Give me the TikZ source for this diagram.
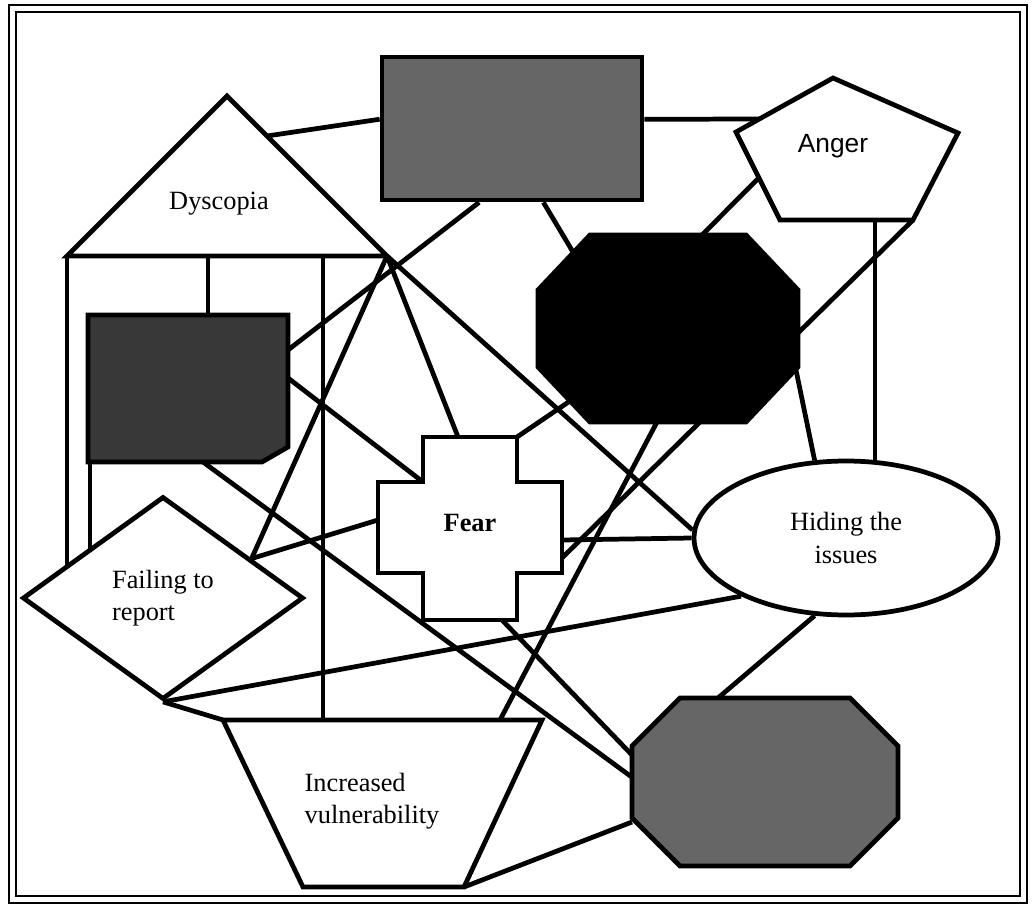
\documentclass[tikz,border=0pt]{standalone}
\usepackage{fontspec}
\setmainfont{Liberation Serif}
\newfontfamily\angerfont{Liberation Sans}
\usetikzlibrary{calc,backgrounds,shapes.geometric}
\tikzset{
	whiteshape/.style={draw, fill=white},
	greybox/.style={draw, fill=black!60},
	darkbox/.style={draw, fill=black!78},
	blackbox/.style={draw, fill=black},
	link/.style={line width=2.7pt},
	outerframe/.style={line width=1.6pt},
	lbl/.style={font=\fontsize{15}{18.5}\selectfont, inner sep=0pt, align=center},
}

\begin{document}
\begin{tikzpicture}[x=0.02cm, y=-0.02cm, line width=2.7pt]
	\path [use as bounding box] (0,0) rectangle (1032,909);
	\draw[outerframe] (9,5) rectangle (1027,903);
	\draw[outerframe] (16,12) rectangle (1020,896);

	\coordinate (dysW) at (67,256);
	\coordinate (dysTop) at (227,96);
	\coordinate (dysE) at (387,256);
	\draw[whiteshape] (dysW) -- (dysTop) -- (dysE) -- cycle;
	\node[lbl] (dys) at (219,204) {Dyscopia};
	\coordinate (dysR) at ($(dysTop)!0.25!(dysE)$);
	\coordinate (dysB1) at (208,256);
	\coordinate (dysB2) at (323,256);

	\node[greybox, minimum width=5.2cm, minimum height=2.86cm] (topbox) at (512,128.5) {};

	\coordinate (angTop) at (833,78);
	\coordinate (angNE) at (958,133);
	\coordinate (angSE) at (913,220);
	\coordinate (angSW) at (780,220);
	\coordinate (angNW) at (736,132);
	\draw[whiteshape] (angTop) -- (angNE) -- (angSE) -- (angSW) -- (angNW) -- cycle;
	\node[lbl, font=\angerfont\fontsize{15}{18}\selectfont] (anger) at (833,146) {Anger};
	\coordinate (angW1) at ($(angNW)!0.24!(angTop)$);
	\coordinate (angW2) at ($(angNW)!0.52!(angSW)$);
	\coordinate (angS) at (875,220);

	\draw[darkbox] (88,315) -- (288,315) -- (288,447) -- (262,462) -- (88,462) -- cycle;
	\coordinate (cardN) at (208,315);
	\coordinate (cardE1) at (288,350);
	\coordinate (cardE2) at (288,378);
	\coordinate (cardS1) at (90,462);
	\coordinate (cardS2) at (203,462);

	\draw[blackbox] (590,235) -- (746,235) -- (798,290) -- (798,367) -- (746,422)
		-- (590,422) -- (538,367) -- (538,290) -- cycle;
	\coordinate (octN) at (702,235);
	\coordinate (octNW) at (573,252);
	\coordinate (octSW) at (570,401);
	\coordinate (octS1) at (657,422);
	\coordinate (octS2) at (700,422);
	\coordinate (octE1) at (798,333);
	\coordinate (octE2) at (796,370);

	\draw[whiteshape] (423,437) -- (517,437) -- (517,482) -- (562,482) -- (562,573) -- (517,573)
		-- (517,620) -- (423,620) -- (423,573) -- (378,573) -- (378,482) -- (423,482) -- cycle;
	\node[lbl, font=\fontsize{15}{18}\selectfont\bfseries] (fear) at (470,523) {Fear};
	\coordinate (fearN) at (458,437);
	\coordinate (fearNE) at (517,437);
	\coordinate (fearNW) at (423,482);
	\coordinate (fearW) at (378,520);
	\coordinate (fearE1) at (562,540);
	\coordinate (fearE2) at (562,558);
	\coordinate (fearS) at (502,620);

	\node[whiteshape, ellipse, minimum width=6.08cm, minimum height=3.08cm, lbl] (hide) at (846,538) {Hiding the\\issues};

	\node[whiteshape, diamond, minimum width=5.62cm, minimum height=4.06cm, lbl, align=left] (fail) at (163,598) {Failing to\\report};

	\draw[whiteshape] (223,720) -- (542,720) -- (464,887) -- (303,887) -- cycle;
	\node[lbl, align=left] (vuln) at (372,801) {Increased\\vulnerability};
	\coordinate (trapNW) at (223,720);
	\coordinate (trapN) at (323,720);
	\coordinate (trapNE) at (500,720);
	\coordinate (trapSE) at (464,887);

	\draw[greybox] (680,698) -- (850,698) -- (898,746) -- (898,818) -- (850,866)
		-- (680,866) -- (632,818) -- (632,746) -- cycle;
	\coordinate (brN) at (718,698);
	\coordinate (brW1) at (632,755);
	\coordinate (brW2) at (633,778);
	\coordinate (brW3) at (632,822);

	\begin{pgfonlayer}{background}
	\begin{scope}[link]
		\draw (dysR) -- (topbox.176);
		\draw (topbox.4) -- (angW1);
		\draw (topbox.246) -- (cardE1);
		\draw (topbox.293) -- (octNW);
		\draw (dysE) -- (fail.24);
		\draw (dysE) -- (fearN);
		\draw (dysE) -- (hide.177);
		\draw (dysW) -- (dysW |- fail.center);
		\draw (dysB1) -- (cardN);
		\draw (dysB2) -- (trapN);
		\draw (cardS1) -- (cardS1 |- fail.center);
		\draw (cardE2) -- (fearNW);
		\draw (cardS2) -- (brW2);
		\draw (fearW) -- (fail.24);
		\draw (fearE1) -- (hide.west);
		\draw (fearNE) -- (octSW);
		\draw (fearE2) -- (octS2);
		\draw (fearS) -- (brW1);
		\draw (octS1) -- (trapNE);
		\draw (octE1) -- (angSE);
		\draw (octN) -- (angW2);
		\draw (octE2) -- (hide.112);
		\draw (angS) -- (angS |- hide.center);
		\draw (hide.209) -- (fail.south);
		\draw (hide.248) -- (brN);
		\draw (fail.south) -- (trapNW);
		\draw (trapSE) -- (brW3);
	\end{scope}
	\end{pgfonlayer}
\end{tikzpicture}
\end{document}
